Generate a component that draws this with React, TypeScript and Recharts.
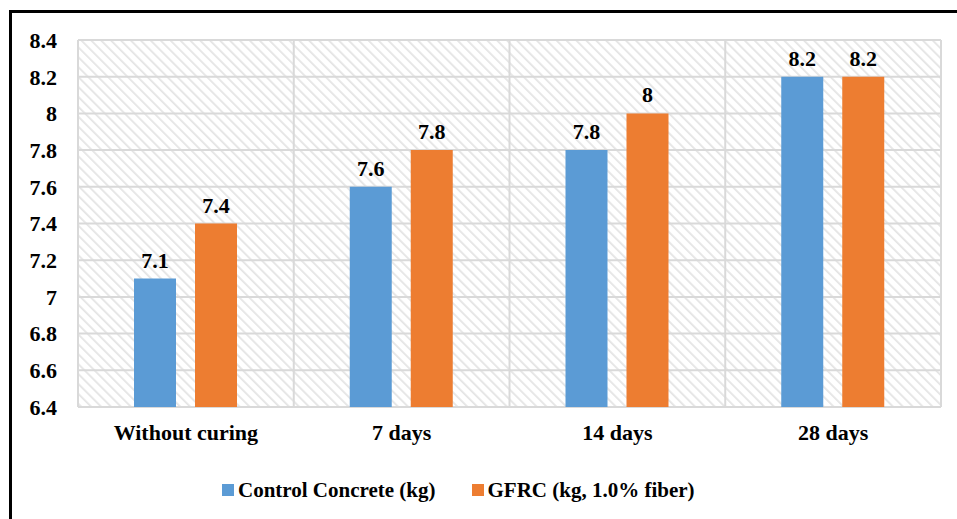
import React from "react";
import {
  BarChart,
  Bar,
  XAxis,
  YAxis,
  CartesianGrid,
  Legend,
  LabelList,
} from "recharts";

// Curing age groups on the x axis
const categories = ["Without curing", "7 days", "14 days", "28 days"];
// Values per series (kg)
const controlValues = [7.1, 7.6, 7.8, 8.2];
const gfrcValues = [7.4, 7.8, 8, 8.2];
// Y axis ticks
const yTicks = [6.4, 6.6, 6.8, 7, 7.2, 7.4, 7.6, 7.8, 8, 8.2, 8.4];

const SERIES = [
  { key: "control", name: "Control Concrete (kg)", color: "#5B9BD5" },
  { key: "gfrc", name: "GFRC (kg, 1.0% fiber)", color: "#ED7D31" },
];

const data = categories.map((name, i) => ({
  name,
  control: controlValues[i],
  gfrc: gfrcValues[i],
}));

const FONT = "Times New Roman, Liberation Serif, DejaVu Serif, serif";
const GRID = "#d9d9d9";

const fmt = (v: number) => String(Number(v.toFixed(1)));

const LegendContent = () => (
  <div
    style={{
      display: "flex",
      alignItems: "center",
      gap: 36,
      fontFamily: FONT,
      fontWeight: "bold",
      fontSize: 21,
      lineHeight: "24px",
      color: "#000",
      whiteSpace: "nowrap",
    }}
  >
    {SERIES.map((s) => (
      <div key={s.key} style={{ display: "flex", alignItems: "center", gap: 4 }}>
        <div style={{ width: 12, height: 12, backgroundColor: s.color }} />
        <span>{s.name}</span>
      </div>
    ))}
  </div>
);

export default function App() {
  return (
    <div
      style={{
        position: "absolute",
        left: 0,
        top: 0,
        width: 957,
        height: 519,
        background: "#fff",
        overflow: "hidden",
        fontFamily: FONT,
      }}
    >
      {/* frame around the figure */}
      <div
        style={{
          position: "absolute",
          left: 9,
          top: 10,
          right: -10,
          bottom: -10,
          borderLeft: "3px solid #000",
          borderTop: "3px solid #000",
        }}
      />
      <BarChart
        width={957}
        height={519}
        data={data}
        margin={{ top: 40, right: 16, bottom: 58, left: 0 }}
        barSize={42}
        barGap={19}
        style={{ position: "absolute", left: 0, top: 0, fontFamily: FONT }}
      >
        <defs>
          <pattern
            id="hatch"
            patternUnits="userSpaceOnUse"
            width="7"
            height="7"
            patternTransform="rotate(-45)"
          >
            <rect width="7" height="7" fill="#ffffff" />
            <line x1="0" y1="0" x2="0" y2="7" stroke="#e4e4e4" strokeWidth="3.5" />
          </pattern>
        </defs>
        <CartesianGrid
          stroke={GRID}
          strokeWidth={2}
          fill="url(#hatch)"
          fillOpacity={1}
          verticalCoordinatesGenerator={({ offset }: any) =>
            [0, 1, 2, 3, 4].map(
              (i) => offset.left + (i * offset.width) / categories.length
            )
          }
        />
        <XAxis
          dataKey="name"
          axisLine={false}
          tickLine={false}
          tickSize={0}
          tickMargin={17}
          interval={0}
          tick={{ fill: "#000", fontSize: 22, fontWeight: "bold", fontFamily: FONT }}
        />
        <YAxis
          domain={[6.4, 8.4]}
          ticks={yTicks}
          width={78}
          axisLine={false}
          tickLine={false}
          tickSize={0}
          tickMargin={21}
          tickFormatter={fmt}
          allowDataOverflow
          tick={{ fill: "#000", fontSize: 22, fontWeight: "bold", fontFamily: FONT }}
        />
        <Legend
          content={<LegendContent />}
          wrapperStyle={{ left: 222, top: 478, width: "auto" }}
        />
        {SERIES.map((s) => (
          <Bar
            key={s.key}
            dataKey={s.key}
            name={s.name}
            fill={s.color}
            isAnimationActive={false}
          >
            <LabelList
              dataKey={s.key}
              position="top"
              offset={11}
              formatter={(v: any) => fmt(Number(v))}
              style={{ fill: "#000", fontSize: 22, fontWeight: "bold", fontFamily: FONT }}
            />
          </Bar>
        ))}
      </BarChart>
    </div>
  );
}
